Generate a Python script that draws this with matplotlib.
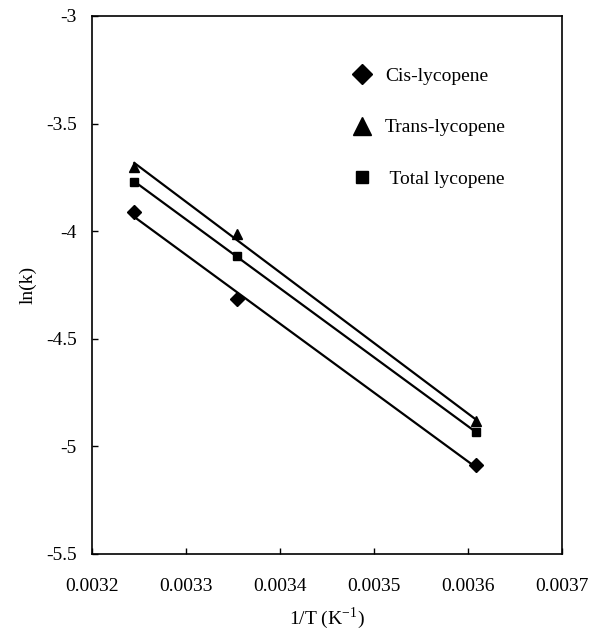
import numpy as np
import matplotlib
matplotlib.use("Agg")
import matplotlib.pyplot as plt
from matplotlib.lines import Line2D
from matplotlib.ticker import FormatStrFormatter, MultipleLocator

plt.rcParams['font.family'] = ['Liberation Serif', 'DejaVu Serif']
plt.rcParams['axes.unicode_minus'] = False
plt.rcParams['mathtext.fontset'] = 'stix'

# 1/T for 35, 25 and 4 degC
inv_T = [0.003245, 0.003354, 0.003608]

series = ['Cis-lycopene', 'Trans-lycopene', ' Total lycopene']
ln_k = {
    'Cis-lycopene': [-3.911, -4.315, -5.086],
    'Trans-lycopene': [-3.702, -4.013, -4.882],
    ' Total lycopene': [-3.771, -4.115, -4.933],
}
markers = {'Cis-lycopene': 'D', 'Trans-lycopene': '^', ' Total lycopene': 's'}
msize = {'Cis-lycopene': 7, 'Trans-lycopene': 6.5, ' Total lycopene': 6}
legend_msize = {'Cis-lycopene': 10, 'Trans-lycopene': 13, ' Total lycopene': 9}

fig = plt.figure(figsize=(5.91, 6.36), dpi=100)
ax = fig.add_axes([92 / 591, 1 - 554 / 636, 470 / 591, 538 / 636])

x = np.array(inv_T)
handles = []
for name in series:
    y = np.array(ln_k[name])
    slope, icpt = np.polyfit(x, y, 1)
    ax.plot(x, slope * x + icpt, color='black', lw=1.6, zorder=2)
    ax.plot(x, y, linestyle='none', marker=markers[name], ms=msize[name],
            color='black', zorder=3)
    handles.append(Line2D([], [], linestyle='none', marker=markers[name],
                          ms=legend_msize[name], color='black', label=name))

ax.set_xlim(0.0032, 0.0037)
ax.set_ylim(-5.5, -3)
ax.xaxis.set_major_locator(MultipleLocator(0.0001))
ax.yaxis.set_major_locator(MultipleLocator(0.5))
ax.xaxis.set_major_formatter(FormatStrFormatter('%.4f'))
ax.yaxis.set_major_formatter(FormatStrFormatter('%g'))
ax.tick_params(direction='in', length=4, width=1, labelsize=14)
ax.tick_params(axis='x', pad=17)
ax.tick_params(axis='y', pad=11)
for sp in ax.spines.values():
    sp.set_linewidth(1.2)

ax.set_xlabel(r'1/T (K$^{\mathregular{-1}}$)', fontsize=14, labelpad=8)
ax.set_ylabel('ln(k)', fontsize=14, labelpad=7)

ax.legend(handles=handles, loc='upper left', bbox_to_anchor=(0.553, 0.905),
          frameon=False, fontsize=14, handlelength=1.0, handletextpad=0.7,
          labelspacing=1.75, borderpad=0, borderaxespad=0)

fig.savefig('out.png', dpi=100)
